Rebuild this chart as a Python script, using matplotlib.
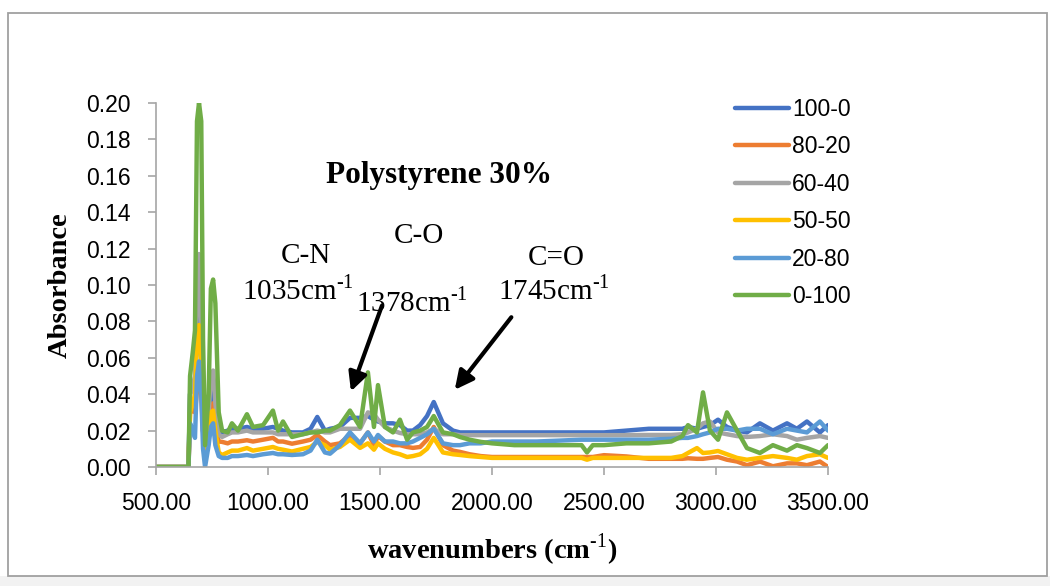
import matplotlib
matplotlib.use('Agg')
import matplotlib.pyplot as plt
from matplotlib.patches import Rectangle
from matplotlib.ticker import FormatStrFormatter, MultipleLocator

plt.rcParams['font.family'] = ['Liberation Sans', 'DejaVu Sans']
plt.rcParams['mathtext.fontset'] = 'custom'
plt.rcParams['mathtext.rm'] = 'Liberation Serif'
plt.rcParams['mathtext.bf'] = 'Liberation Serif:bold'

# wavenumber grid (cm-1) shared by all series
wavenumbers = [500, 645, 652, 665, 674, 683, 692, 702, 710, 719, 735, 745, 755, 765,
               780, 795, 820, 839, 866, 906, 933, 978, 1022, 1045, 1067, 1107, 1156,
               1190, 1220, 1254, 1277, 1321, 1366, 1411, 1446, 1473, 1491, 1522, 1558,
               1589, 1621, 1647, 1679, 1710, 1740, 1781, 1826, 1857, 1900, 1950, 2000,
               2100, 2200, 2300, 2400, 2424, 2450, 2500, 2600, 2700, 2800, 2850,
               2875, 2915, 2942, 2973, 3009, 3049, 3094, 3138, 3196, 3254, 3317,
               3361, 3406, 3464, 3500]

abs_100_0 = [0, 0, 0.040, 0.045, 0.045, 0.070, 0.092, 0.060, 0.020, 0.008, 0.025, 0.040,
             0.045, 0.030, 0.020, 0.019,
             0.020, 0.021, 0.021, 0.022, 0.021, 0.021, 0.022, 0.021, 0.020, 0.019,
             0.019, 0.021, 0.0275, 0.020, 0.021, 0.022, 0.027, 0.027, 0.028, 0.026, 0.025,
             0.024, 0.024, 0.023, 0.020, 0.020, 0.023, 0.028, 0.0357, 0.024, 0.020, 0.019,
             0.019, 0.019, 0.019, 0.019, 0.019, 0.019, 0.019, 0.019, 0.019, 0.019, 0.020,
             0.021, 0.021, 0.021, 0.022, 0.021, 0.022, 0.023, 0.026, 0.022, 0.020, 0.019,
             0.024, 0.020, 0.024, 0.021, 0.025, 0.019, 0.023]

abs_80_20 = [0, 0, 0.030, 0.031, 0.030, 0.042, 0.050, 0.040, 0.020, 0.010, 0.020, 0.032,
             0.035, 0.022, 0.014, 0.0138,
             0.013, 0.014, 0.014, 0.0147, 0.014, 0.015, 0.016, 0.014, 0.014, 0.0128,
             0.014, 0.015, 0.0176, 0.014, 0.012, 0.013, 0.0176, 0.013, 0.019, 0.012, 0.017,
             0.014, 0.012, 0.012, 0.011, 0.0105, 0.011, 0.015, 0.022, 0.012, 0.009, 0.0083,
             0.007, 0.006, 0.0055, 0.0055, 0.0055, 0.0055, 0.0055, 0.0055, 0.0055, 0.0065,
             0.0058, 0.0045, 0.0045, 0.0045, 0.0048, 0.0045, 0.0045, 0.005, 0.0055, 0.004,
             0.003, 0.001, 0.003, 0.0004, 0.002, 0.002, 0.001, 0.003, 0.0]

abs_60_40 = [0, 0, 0.040, 0.045, 0.050, 0.090, 0.117, 0.080, 0.030, 0.012, 0.030, 0.050,
             0.053, 0.035, 0.018, 0.0165,
             0.018, 0.019, 0.019, 0.020, 0.019, 0.019, 0.019, 0.018, 0.018, 0.018,
             0.018, 0.019, 0.020, 0.019, 0.019, 0.021, 0.021, 0.021, 0.030, 0.029, 0.026,
             0.022, 0.020, 0.0187, 0.018, 0.018, 0.018, 0.019, 0.021, 0.018, 0.018, 0.0175,
             0.0175, 0.0175, 0.0175, 0.0175, 0.0175, 0.0175, 0.0175, 0.0175, 0.0175, 0.0175,
             0.0175, 0.0176, 0.0176, 0.018, 0.019, 0.021, 0.024, 0.025, 0.019, 0.018, 0.017,
             0.0165, 0.017, 0.018, 0.017, 0.015, 0.016, 0.017, 0.016]

abs_50_50 = [0, 0, 0.030, 0.035, 0.040, 0.070, 0.078, 0.060, 0.020, 0.008, 0.018, 0.030,
             0.031, 0.020, 0.008, 0.0066,
             0.008, 0.009, 0.009, 0.0104, 0.009, 0.010, 0.011, 0.010, 0.0095, 0.0085,
             0.010, 0.011, 0.0138, 0.012, 0.0095, 0.011, 0.015, 0.0105, 0.013, 0.0095, 0.013,
             0.010, 0.008, 0.007, 0.0055, 0.006, 0.007, 0.010, 0.016, 0.008, 0.007, 0.0066,
             0.006, 0.0055, 0.005, 0.005, 0.005, 0.005, 0.005, 0.004, 0.005, 0.005, 0.005,
             0.005, 0.005, 0.006, 0.0077, 0.0104, 0.0077, 0.008, 0.0088, 0.007, 0.005, 0.004,
             0.005, 0.006, 0.005, 0.004, 0.006, 0.007, 0.005]

abs_20_80 = [0, 0, 0.024, 0.020, 0.016, 0.050, 0.058, 0.040, 0.010, 0.0, 0.012, 0.022,
             0.024, 0.012, 0.006, 0.005,
             0.005, 0.006, 0.006, 0.0066, 0.006, 0.007, 0.0077, 0.007, 0.007, 0.0066,
             0.007, 0.009, 0.015, 0.008, 0.0073, 0.012, 0.019, 0.013, 0.019, 0.014, 0.0176,
             0.014, 0.014, 0.013, 0.013, 0.014, 0.016, 0.018, 0.021, 0.013, 0.012, 0.012,
             0.013, 0.013, 0.014, 0.014, 0.014, 0.0145, 0.015, 0.015, 0.015, 0.015, 0.015,
             0.015, 0.0155, 0.016, 0.016, 0.017, 0.018, 0.019, 0.021, 0.021, 0.020, 0.021,
             0.021, 0.018, 0.021, 0.020, 0.019, 0.025, 0.020]

abs_0_100 = [0, 0, 0.050, 0.064, 0.075, 0.190, 0.200, 0.190, 0.070, 0.012, 0.040, 0.098,
             0.103, 0.090, 0.030, 0.020,
             0.019, 0.024, 0.020, 0.029, 0.022, 0.023, 0.031, 0.020, 0.025, 0.0165,
             0.018, 0.019, 0.019, 0.020, 0.020, 0.023, 0.031, 0.022, 0.052, 0.022, 0.045,
             0.022, 0.019, 0.026, 0.015, 0.019, 0.020, 0.022, 0.028, 0.019, 0.018, 0.0165,
             0.015, 0.0138, 0.013, 0.012, 0.012, 0.012, 0.012, 0.008, 0.012, 0.012, 0.013,
             0.013, 0.014, 0.017, 0.023, 0.019, 0.041, 0.020, 0.015, 0.030, 0.020, 0.0104,
             0.0077, 0.012, 0.009, 0.012, 0.0104, 0.0077, 0.012]

series_names = ['100-0', '80-20', '60-40', '50-50', '20-80', '0-100']
series_values = [abs_100_0, abs_80_20, abs_60_40, abs_50_50, abs_20_80, abs_0_100]
series_colors = ['#4472C4', '#ED7D31', '#A5A5A5', '#FFC000', '#5B9BD5', '#70AD47']

fig = plt.figure(figsize=(10.5, 5.86), dpi=100)
ax = fig.add_axes([156 / 1050, 1 - 467 / 586, 672 / 1050, 364 / 586])

for name, values, color in zip(series_names, series_values, series_colors):
    ax.plot(wavenumbers, values, color=color, lw=3.2, label=name,
            solid_joinstyle='round', solid_capstyle='round')

ax.set_xlim(500, 3500)
ax.set_ylim(0, 0.20)
ax.xaxis.set_major_locator(MultipleLocator(500))
ax.yaxis.set_major_locator(MultipleLocator(0.02))
ax.xaxis.set_major_formatter(FormatStrFormatter('%.2f'))
ax.yaxis.set_major_formatter(FormatStrFormatter('%.2f'))

# Excel-like axes: grey left/bottom lines only, outward ticks
for side in ['top', 'right']:
    ax.spines[side].set_visible(False)
for side in ['left', 'bottom']:
    ax.spines[side].set_color('#A6A6A6')
    ax.spines[side].set_linewidth(1.2)
ax.tick_params(axis='both', direction='out', length=6, width=1.2, color='#A6A6A6',
               labelsize=16.5, labelcolor='black')
ax.tick_params(axis='y', pad=12)
ax.tick_params(axis='x', pad=12)

ax.set_xlabel('wavenumbers (cm$^{\\text{-1}}$)', family='Liberation Serif',
              fontweight='bold', fontsize=20.5, labelpad=12)
ax.set_ylabel('Absorbance', family='Liberation Serif', fontweight='bold',
              fontsize=20.5, labelpad=10)

# Title and band annotations
serif = dict(family='Liberation Serif', ha='center', va='center', fontsize=21)
ax.text(1763, 0.160, 'Polystyrene 30%', family='Liberation Serif', fontweight='bold',
        fontsize=22.5, ha='center', va='center')
ax.text(1170, 0.116, 'C-N', **serif)
ax.text(1134, 0.097, '1035cm$^{\\text{-1}}$', **serif)
ax.text(1674, 0.127, 'C-O', **serif)
ax.text(1643, 0.0907, '1378cm$^{\\text{-1}}$', **serif)
ax.text(2286, 0.115, 'C=O', **serif)
ax.text(2277, 0.097, '1745cm$^{\\text{-1}}$', **serif)

arrow = dict(arrowstyle='-|>', color='black', lw=3, mutation_scale=28)
ax.annotate('', xy=(1366, 0.0401), xytext=(1513, 0.0901), arrowprops=arrow)
ax.annotate('', xy=(1826, 0.0412), xytext=(2094, 0.0835), arrowprops=arrow)

fig.legend(loc='upper left', bbox_to_anchor=(735 / 1050, 1 - 98 / 586), frameon=False,
           fontsize=16.5, handlelength=2.35, handletextpad=0.15, labelspacing=0.63,
           borderpad=0, borderaxespad=0)

# chart frame and faint bottom shadow
fig.patches.append(Rectangle((0, 0), 1, 10 / 586, transform=fig.transFigure,
                             facecolor='#F2F2F2', edgecolor='none', zorder=-2))
fig.patches.append(Rectangle((8 / 1050, 10 / 586), 1039 / 1050, 563 / 586,
                             transform=fig.transFigure, facecolor='white',
                             edgecolor='#A0A0A0', lw=1.3, zorder=-1))

fig.savefig('out.png', dpi=100)
